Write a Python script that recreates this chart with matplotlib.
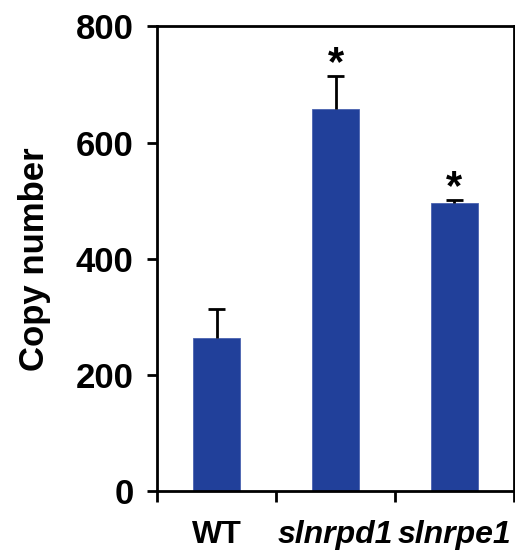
import matplotlib
matplotlib.use("Agg")
import matplotlib.pyplot as plt

categories = ["WT", "slnrpd1", "slnrpe1"]
copy_number = [263, 658, 497]
error_up = [51, 56, 4]
significant = [False, True, True]

BAR_COLOR = "#21409A"

plt.rcParams["font.family"] = ["Liberation Sans", "DejaVu Sans"]
plt.rcParams["font.weight"] = "bold"

fig = plt.figure(figsize=(5.15, 5.52), dpi=100)
ax = fig.add_axes([0.305, 0.110, 0.693, 0.842])

x = list(range(len(categories)))
tops = [v + e for v, e in zip(copy_number, error_up)]

ax.bar(x, copy_number, width=0.40, color=BAR_COLOR, edgecolor="#4a63b0",
       linewidth=0.6, zorder=2)
# upper-only error whiskers with a cap
ax.vlines(x, copy_number, tops, colors="black", linewidth=2.0, zorder=3)
ax.hlines(tops, [xi - 0.07 for xi in x], [xi + 0.07 for xi in x],
          colors="black", linewidth=2.0, zorder=3)

for xi, t, s in zip(x, tops, significant):
    if s:
        ax.annotate("*", xy=(xi, t), xytext=(0, 1), textcoords="offset points",
                    ha="center", va="baseline", fontsize=30, fontweight="bold")

ax.set_xlim(-0.5, len(categories) - 0.5)
ax.set_ylim(0, 800)
ax.set_yticks([0, 200, 400, 600, 800])
ax.set_yticklabels(["0", "200", "400", "600", "800"], fontsize=25, fontweight="bold")

# category boundary ticks, labels centred under the bars
ax.set_xticks([-0.5, 0.5, 1.5, 2.5])
ax.set_xticklabels([])
ax.set_xticks(x, minor=True)
ax.set_xticklabels(categories, minor=True, fontsize=23, fontweight="bold")
for lbl in ax.get_xticklabels(minor=True)[1:]:
    lbl.set_style("italic")
ax.tick_params(axis="x", which="minor", length=0, pad=21)
ax.tick_params(axis="x", which="major", direction="out", length=8, width=2)
ax.tick_params(axis="y", direction="out", length=7, width=2, pad=10)

for side in ["left", "bottom", "top", "right"]:
    ax.spines[side].set_linewidth(2)
    ax.spines[side].set_color("black")

ax.set_ylabel("Copy number", fontsize=25, fontweight="bold", labelpad=18)

fig.savefig("out.png", dpi=100)
